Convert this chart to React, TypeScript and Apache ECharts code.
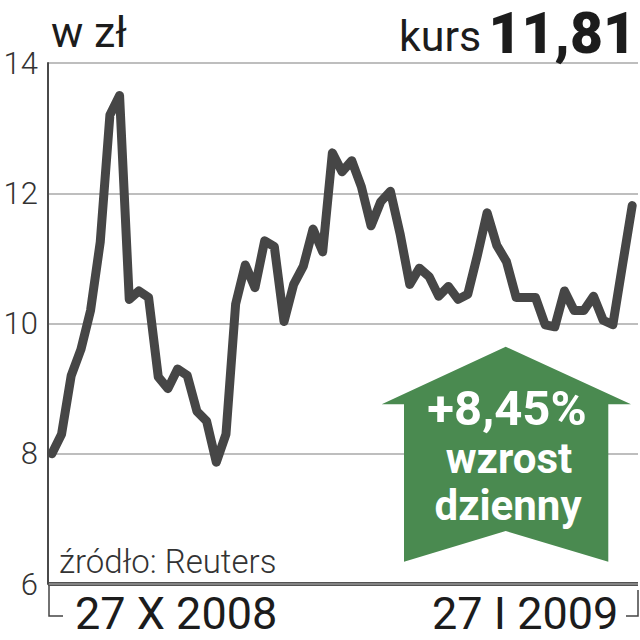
import React, { useEffect, useRef } from "react";
import * as echarts from "echarts";

const prices = [
  8.0, 8.3, 9.2, 9.6, 10.2, 11.25, 13.2, 13.5, 10.37, 10.5,
  10.4, 9.18, 9.0, 9.3, 9.2, 8.65, 8.5, 7.87, 8.3, 10.3,
  10.9, 10.55, 11.27, 11.18, 10.03, 10.6, 10.88, 11.45, 11.1, 12.62,
  12.33, 12.5, 12.1, 11.5, 11.87, 12.03, 11.38, 10.6, 10.85, 10.72,
  10.42, 10.57, 10.37, 10.45, 11.05, 11.7, 11.2, 10.95, 10.4, 10.4,
  10.4, 9.98, 9.95, 10.5, 10.2, 10.2, 10.42, 10.05, 9.98, 10.9, 11.81,
];
const sessions = prices.map((_, i) => i);
const yTicks = [6, 8, 10, 12, 14];
const unitLabel = "w zł";
const kursLabel = "kurs";
const kursValue = "11,81";
const sourceLabel = "źródło: Reuters";
const startLabel = "27 X 2008";
const endLabel = "27 I 2009";
const changeLabels = ["+8,45%", "wzrost", "dzienny"];

const SANS = "Roboto, 'Liberation Sans', sans-serif";
const DARK = "#1c1c1c";

export default function App() {
  const ref = useRef<HTMLDivElement>(null);
  useEffect(() => {
    const chart = echarts.init(ref.current!, null, { renderer: "svg" });
    const line = (x1: number, y1: number, x2: number, y2: number, w: number, c: string) => ({
      type: "line", shape: { x1, y1, x2, y2 }, style: { stroke: c, lineWidth: w },
    });
    const txt = (text: string, x: number, y: number, size: number, weight: any, align: string, fill = DARK, family = SANS) => ({
      type: "text", x, y, z: 20,
      style: { text, fontSize: size, fontWeight: weight, fontFamily: family, fill, align, verticalAlign: "middle" },
    });
    chart.setOption({
      animation: false,
      backgroundColor: "#ffffff",
      grid: { left: 48, right: 2, top: 63, bottom: 56, containLabel: false },
      xAxis: {
        type: "value", min: -0.4, max: 60.6,
        axisLine: { show: false }, axisTick: { show: false }, axisLabel: { show: false }, splitLine: { show: false },
      },
      yAxis: {
        type: "value", min: yTicks[0], max: yTicks[yTicks.length - 1], interval: 2,
        axisLine: { show: true, onZero: false, lineStyle: { color: "#4a4a4a", width: 2 } },
        axisTick: { show: false },
        axisLabel: { color: "#333333", fontSize: 31, fontWeight: 300, fontFamily: SANS, margin: 10 },
        splitLine: { show: true, lineStyle: { color: "#a8a8a8", width: 1.5 } },
      },
      series: [{
        type: "line", data: sessions.map((s, i) => [s, prices[i]]), showSymbol: false, symbol: "none",
        lineStyle: { color: "#464646", width: 9, cap: "round", join: "round" }, z: 5,
      }],
      graphic: [
        line(48, 584, 638, 584, 3.5, "#1a1a1a"),
        { type: "polyline", shape: { points: [[49, 586], [49, 616], [63, 616]] }, style: { stroke: "#444", lineWidth: 1.5, fill: "none" } },
        { type: "polyline", shape: { points: [[638, 590], [638, 616], [626, 616]] }, style: { stroke: "#444", lineWidth: 1.5, fill: "none" } },
        { type: "polygon", z: 10,
          shape: { points: [[505.7, 346.7], [631, 404.3], [608.3, 404.3], [608.3, 561.7], [505.7, 531], [404, 561.7], [404, 404.3], [381.7, 404.3]] },
          style: { fill: "#4a8a50" } },
        txt(unitLabel, 51, 32, 43, 400, "left"),
        txt(kursLabel, 399, 36, 43, 400, "left"),
        txt(kursValue, 636, 33, 57, 900, "right"),
        txt(sourceLabel, 59, 561, 33, 300, "left", "#333333"),
        txt(startLabel, 75, 613, 45, 400, "left"),
        txt(endLabel, 432, 613, 45, 400, "left"),
        txt(changeLabels[0], 507, 408, 49, 700, "center", "#ffffff"),
        txt(changeLabels[1], 509, 458, 42, 700, "center", "#ffffff"),
        txt(changeLabels[2], 508, 505, 42, 700, "center", "#ffffff"),
      ],
    });
    return () => chart.dispose();
  }, []);
  return <div ref={ref} style={{ position: "absolute", left: 0, top: 0, width: 640, height: 640 }} />;
}
